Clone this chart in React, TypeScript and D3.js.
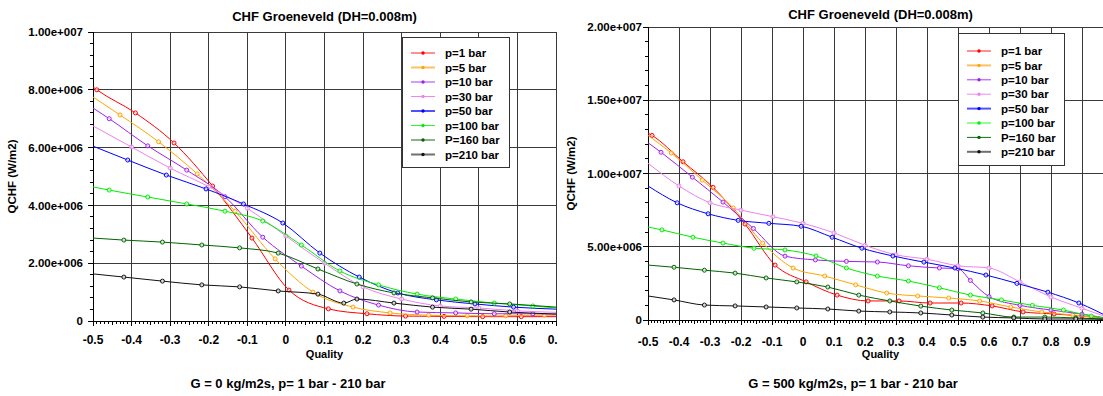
import React from "react";
import * as d3 from "d3";

type Pt = [number, number];

// ---------- shared series metadata ----------
const seriesNames = ["p=1 bar", "p=5 bar", "p=10 bar", "p=30 bar", "p=50 bar", "p=100 bar", "P=160 bar", "p=210 bar"];
const seriesColors = ["#ff0000", "#ffa500", "#a020f0", "#ee82ee", "#0000ff", "#00ee00", "#006400", "#111111"];
const legendColors = ["#ff2020", "#ffc060", "#a040ff", "#ee88ee", "#5050ff", "#22ff22", "#1a6a1a", "#707070"];
const legendWidths = [1, 2, 1, 1, 2, 1, 1, 2];

// ---------- left chart: G = 0 kg/m2s  (values in MW/m2) ----------
const leftP1: Pt[] = [[-0.5, 8.1], [-0.49, 8.0], [-0.39, 7.2], [-0.29, 6.16], [-0.19, 4.67], [-0.088, 2.87], [0.008, 1.07], [0.11, 0.42], [0.21, 0.25], [0.31, 0.17], [0.41, 0.16], [0.51, 0.15], [0.61, 0.15], [0.7, 0.15]];
const leftP5: Pt[] = [[-0.5, 7.75], [-0.43, 7.13], [-0.33, 6.2], [-0.23, 5.09], [-0.132, 3.8], [-0.028, 2.15], [0.07, 1.0], [0.174, 0.48], [0.27, 0.28], [0.37, 0.2], [0.47, 0.18], [0.57, 0.18], [0.67, 0.2], [0.7, 0.2]];
const leftP10: Pt[] = [[-0.5, 7.37], [-0.458, 7.0], [-0.358, 6.06], [-0.257, 5.22], [-0.158, 4.3], [-0.06, 2.9], [0.04, 1.9], [0.14, 1.04], [0.24, 0.55], [0.34, 0.31], [0.44, 0.28], [0.54, 0.25], [0.64, 0.25], [0.7, 0.24]];
const leftP30: Pt[] = [[-0.5, 6.75], [-0.4, 6.02], [-0.3, 5.29], [-0.2, 4.65], [-0.1, 3.9], [0.0, 2.94], [0.1, 2.0], [0.2, 1.18], [0.3, 0.76], [0.4, 0.52], [0.5, 0.45], [0.6, 0.35], [0.7, 0.3]];
const leftP50: Pt[] = [[-0.5, 6.05], [-0.41, 5.57], [-0.31, 5.05], [-0.207, 4.57], [-0.11, 4.05], [-0.008, 3.39], [0.088, 2.35], [0.19, 1.52], [0.29, 0.97], [0.39, 0.73], [0.49, 0.59], [0.59, 0.48], [0.7, 0.41]];
const leftP100: Pt[] = [[-0.5, 4.64], [-0.458, 4.53], [-0.358, 4.29], [-0.257, 4.05], [-0.158, 3.8], [-0.06, 3.46], [0.04, 2.63], [0.14, 1.73], [0.24, 1.25], [0.34, 0.93], [0.44, 0.76], [0.54, 0.62], [0.64, 0.52], [0.7, 0.45]];
const leftP160: Pt[] = [[-0.5, 2.87], [-0.42, 2.8], [-0.32, 2.73], [-0.218, 2.63], [-0.12, 2.53], [-0.02, 2.35], [0.083, 1.8], [0.184, 1.28], [0.28, 0.97], [0.38, 0.8], [0.48, 0.66], [0.58, 0.59], [0.7, 0.48]];
const leftP210: Pt[] = [[-0.5, 1.63], [-0.42, 1.52], [-0.32, 1.38], [-0.218, 1.25], [-0.12, 1.18], [-0.02, 1.04], [0.083, 0.93], [0.15, 0.62], [0.184, 0.76], [0.28, 0.62], [0.38, 0.48], [0.48, 0.41], [0.58, 0.31], [0.7, 0.24]];
const leftSeries = [leftP1, leftP5, leftP10, leftP30, leftP50, leftP100, leftP160, leftP210];
const leftXTicks = [-0.5, -0.4, -0.3, -0.2, -0.1, 0, 0.1, 0.2, 0.3, 0.4, 0.5, 0.6, 0.7];
const leftYTicks = [0, 2, 4, 6, 8, 10];

// ---------- right chart: G = 500 kg/m2s ----------
const rightP1: Pt[] = [[-0.5, 12.76], [-0.487, 12.6], [-0.387, 10.8], [-0.29, 9.05], [-0.187, 6.55], [-0.09, 3.75], [0.01, 2.6], [0.11, 1.7], [0.21, 1.3], [0.31, 1.3], [0.41, 1.16], [0.51, 1.16], [0.61, 0.96], [0.71, 0.55], [0.81, 0.41], [0.9, 0.27], [1.0, 0.05]];
const rightP5: Pt[] = [[-0.5, 12.6], [-0.425, 11.4], [-0.325, 9.55], [-0.225, 7.65], [-0.13, 5.25], [-0.032, 3.55], [0.07, 3.0], [0.17, 2.4], [0.27, 1.84], [0.37, 1.64], [0.47, 1.5], [0.57, 1.3], [0.67, 0.89], [0.77, 0.55], [0.87, 0.34], [1.0, 0.05]];
const rightP10: Pt[] = [[-0.5, 12.1], [-0.458, 11.45], [-0.357, 9.75], [-0.258, 8.05], [-0.16, 6.25], [-0.058, 4.36], [0.04, 4.1], [0.14, 4.0], [0.24, 3.96], [0.34, 3.7], [0.44, 3.55], [0.5, 3.5], [0.54, 2.7], [0.6, 1.6], [0.7, 1.0], [0.8, 0.68], [0.9, 0.4], [1.0, 0.05]];
const rightP30: Pt[] = [[-0.5, 10.7], [-0.4, 9.15], [-0.3, 8.0], [-0.2, 7.5], [-0.097, 7.05], [0.0, 6.6], [0.1, 5.95], [0.2, 5.1], [0.3, 4.45], [0.4, 4.15], [0.5, 3.7], [0.6, 3.55], [0.7, 2.6], [0.8, 1.57], [0.9, 0.8], [1.0, 0.05]];
const rightP50: Pt[] = [[-0.5, 9.15], [-0.406, 8.0], [-0.306, 7.25], [-0.209, 6.8], [-0.11, 6.6], [-0.006, 6.4], [0.094, 5.65], [0.19, 4.9], [0.29, 4.37], [0.39, 3.95], [0.49, 3.55], [0.59, 3.07], [0.69, 2.5], [0.79, 1.9], [0.89, 1.16], [1.0, 0.05]];
const rightP100: Pt[] = [[-0.5, 6.35], [-0.455, 6.15], [-0.355, 5.65], [-0.258, 5.25], [-0.158, 4.9], [-0.058, 4.78], [0.042, 4.37], [0.14, 3.55], [0.24, 3.0], [0.34, 2.66], [0.44, 2.2], [0.54, 1.7], [0.64, 1.37], [0.74, 1.0], [0.84, 0.68], [0.93, 0.27], [1.0, 0.05]];
const rightP160: Pt[] = [[-0.5, 3.75], [-0.416, 3.6], [-0.318, 3.4], [-0.219, 3.2], [-0.119, 2.87], [-0.02, 2.6], [0.08, 2.25], [0.18, 1.7], [0.28, 1.3], [0.38, 0.95], [0.48, 0.68], [0.58, 0.48], [0.68, 0.2], [0.78, 0.2], [0.88, 0.14], [1.0, 0.05]];
const rightP210: Pt[] = [[-0.5, 1.64], [-0.416, 1.37], [-0.318, 1.02], [-0.219, 0.96], [-0.119, 0.89], [-0.02, 0.82], [0.08, 0.75], [0.18, 0.61], [0.28, 0.55], [0.38, 0.48], [0.48, 0.34], [0.58, 0.2], [0.68, 0.14], [0.78, 0.07], [0.88, 0.07], [1.0, 0.03]];
const rightSeries = [rightP1, rightP5, rightP10, rightP30, rightP50, rightP100, rightP160, rightP210];
const rightXTicks = [-0.5, -0.4, -0.3, -0.2, -0.1, 0, 0.1, 0.2, 0.3, 0.4, 0.5, 0.6, 0.7, 0.8, 0.9];
const rightYTicks = [0, 5, 10, 15, 20];

const chartTitle = "CHF Groeneveld (DH=0.008m)";
const yAxisTitle = "QCHF (W/m2)";
const xAxisTitle = "Quality";
const leftCaption = "G = 0 kg/m2s, p= 1 bar - 210 bar";
const rightCaption = "G = 500 kg/m2s, p= 1 bar - 210 bar";

const FONT = "'Liberation Sans', Arial, Helvetica, sans-serif";

function fmtY(mw: number): string {
  if (mw === 0) return "0";
  const [m, e] = (mw * 1e6).toExponential(2).split("e");
  const sign = e[0] === "-" ? "-" : "+";
  const digits = e.replace(/[+-]/, "").padStart(3, "0");
  return `${m}e${sign}${digits}`;
}

function fmtX(q: number): string {
  const r = Math.round(q * 10) / 10;
  return r === 0 ? "0" : String(r);
}

interface ChartCfg {
  id: string;
  px0: number; px1: number; py0: number; py1: number;
  xDomain: [number, number];
  yMax: number;
  yTicks: number[];
  yMinor: number;
  xTicks: number[];
  series: Pt[][];
  titleY: number;
  yTitleX: number;
  yLabelRight: number;
  xLabelY: number;
  xTitleY: number;
  caption: string;
  captionX: number;
  captionY: number;
  legend: { x: number; y: number; w: number; h: number; firstY: number; step: number; lineX: number; textX: number };
  clipRight: number;
}

const charts: ChartCfg[] = [
  {
    id: "left", px0: 93, px1: 556, py0: 32, py1: 321,
    xDomain: [-0.5, 0.7], yMax: 10, yTicks: leftYTicks, yMinor: 0.4, xTicks: leftXTicks,
    series: leftSeries, titleY: 21, yTitleX: 16, yLabelRight: 83, xLabelY: 344, xTitleY: 358,
    caption: leftCaption, captionX: 288, captionY: 388,
    legend: { x: 402, y: 37, w: 107, h: 130, firstY: 53, step: 14.5, lineX: 411, textX: 445 },
    clipRight: 558,
  },
  {
    id: "right", px0: 648, px1: 1113, py0: 27, py1: 320,
    xDomain: [-0.5, 1.0], yMax: 20, yTicks: rightYTicks, yMinor: 1, xTicks: rightXTicks,
    series: rightSeries, titleY: 19, yTitleX: 575, yLabelRight: 642, xLabelY: 346, xTitleY: 358,
    caption: rightCaption, captionX: 853, captionY: 388,
    legend: { x: 958, y: 33, w: 106, h: 132, firstY: 51, step: 14.4, lineX: 967, textX: 1001 },
    clipRight: 1103,
  },
];

function Chart({ c }: { c: ChartCfg }) {
  const x = d3.scaleLinear().domain(c.xDomain).range([c.px0, c.px1]);
  const y = d3.scaleLinear().domain([0, c.yMax]).range([c.py1, c.py0]);
  const line = d3.line<Pt>().x((d) => x(d[0])).y((d) => y(d[1])).curve(d3.curveMonotoneX);
  const nMinorX = Math.round((c.xDomain[1] - c.xDomain[0]) / 0.01);
  const minorX = d3.range(nMinorX + 1).map((i) => ({ q: c.xDomain[0] + i * 0.01, i }));
  const nMinorY = Math.round(c.yMax / c.yMinor);
  const minorY = d3.range(nMinorY + 1).map((i) => i * c.yMinor);
  const cx = (c.px0 + c.px1) / 2;
  const gridColor = "#3a3a3a";
  const L = c.legend;
  return (
    <g clipPath={`url(#clip-${c.id})`}>
      <defs>
        <clipPath id={`clip-${c.id}`}>
          <rect x={c.clipRight - 560} y={0} width={560} height={396} />
        </clipPath>
        <clipPath id={`plot-${c.id}`}>
          <rect x={c.px0} y={c.py0 - 2} width={c.px1 - c.px0} height={c.py1 - c.py0 + 4} />
        </clipPath>
      </defs>
      {/* title */}
      <text x={cx} y={c.titleY} textAnchor="middle" fontFamily={FONT} fontWeight="bold" fontSize={13}>{chartTitle}</text>
      {/* grid */}
      <g shapeRendering="crispEdges">
        {c.xTicks.filter((t) => t > c.xDomain[0]).map((t) => (
          <line key={`gx${t}`} x1={x(t)} x2={x(t)} y1={c.py0} y2={c.py1 + 5} stroke={gridColor} strokeWidth={1} />
        ))}
        <line x1={c.px1} x2={c.px1} y1={c.py0} y2={c.py1 + 5} stroke={gridColor} strokeWidth={1} />
        {c.yTicks.filter((t) => t > 0).map((t) => (
          <line key={`gy${t}`} x1={c.px0 - 5} x2={c.px1} y1={y(t)} y2={y(t)} stroke={gridColor} strokeWidth={1} />
        ))}
        {/* axes */}
        <line x1={c.px0} x2={c.px0} y1={c.py0} y2={c.py1 + 5} stroke="#000" />
        <line x1={c.px0 - 5} x2={c.px1} y1={c.py1} y2={c.py1} stroke="#000" />
        {minorX.map(({ q, i }) => (
          <line key={`mx${i}`} x1={x(q)} x2={x(q)} y1={c.py1} y2={c.py1 + (i % 10 === 0 ? 5 : i % 5 === 0 ? 4 : 2.5)} stroke="#000" />
        ))}
        {minorY.map((v, i) => (
          <line key={`my${i}`} x1={c.px0 - (i % Math.round(c.yTicks[1] / c.yMinor) === 0 ? 5 : 3)} x2={c.px0} y1={y(v)} y2={y(v)} stroke="#000" />
        ))}
      </g>
      {/* tick labels */}
      {c.yTicks.map((t) => (
        <text key={`ly${t}`} x={c.yLabelRight} y={y(t)} dy="0.36em" textAnchor="end" fontFamily={FONT} fontWeight="bold" fontSize={11.5}>{fmtY(t)}</text>
      ))}
      {c.xTicks.map((t) => (
        <text key={`lx${t}`} x={x(t)} y={c.xLabelY} textAnchor="middle" fontFamily={FONT} fontWeight="bold" fontSize={12}>{fmtX(t)}</text>
      ))}
      <text x={cx} y={c.xTitleY} textAnchor="middle" fontFamily={FONT} fontWeight="bold" fontSize={11}>{xAxisTitle}</text>
      <text transform={`translate(${c.yTitleX},${(c.py0 + c.py1) / 2}) rotate(-90)`} textAnchor="middle" fontFamily={FONT} fontWeight="bold" fontSize={11.5}>{yAxisTitle}</text>
      <text x={c.captionX} y={c.captionY} textAnchor="middle" fontFamily={FONT} fontWeight="bold" fontSize={13}>{c.caption}</text>
      {/* series */}
      <g clipPath={`url(#plot-${c.id})`}>
        {c.series.map((s, si) => (
          <g key={`s${si}`}>
            <path d={line(s) ?? ""} fill="none" stroke={seriesColors[si]} strokeWidth={1} />
            {s.slice(1, -1).map((p, pi) => (
              <circle key={pi} cx={x(p[0])} cy={y(p[1])} r={2} fill="#fff" fillOpacity={0.6} stroke={seriesColors[si]} strokeWidth={1} />
            ))}
          </g>
        ))}
      </g>
      {/* legend */}
      <rect x={L.x + 0.5} y={L.y + 0.5} width={L.w} height={L.h} fill="#fff" stroke="#333" strokeWidth={1} />
      {seriesNames.map((n, i) => {
        const ly = L.firstY + i * L.step;
        return (
          <g key={`lg${i}`}>
            <line x1={L.lineX} x2={L.lineX + 24} y1={ly} y2={ly} stroke={legendColors[i]} strokeWidth={legendWidths[i]} />
            <circle cx={L.lineX + 12} cy={ly} r={1.7} fill={seriesColors[i]} />
            <text x={L.textX} y={ly} dy="0.36em" fontFamily={FONT} fontWeight="bold" fontSize={11.5}>{n}</text>
          </g>
        );
      })}
    </g>
  );
}

export default function App() {
  return (
    <svg width={1103} height={396} viewBox="0 0 1103 396" style={{ position: "absolute", left: 0, top: 0, background: "#fff" }}>
      <rect x={0} y={0} width={1103} height={396} fill="#fff" />
      {charts.map((c) => (
        <Chart key={c.id} c={c} />
      ))}
    </svg>
  );
}
